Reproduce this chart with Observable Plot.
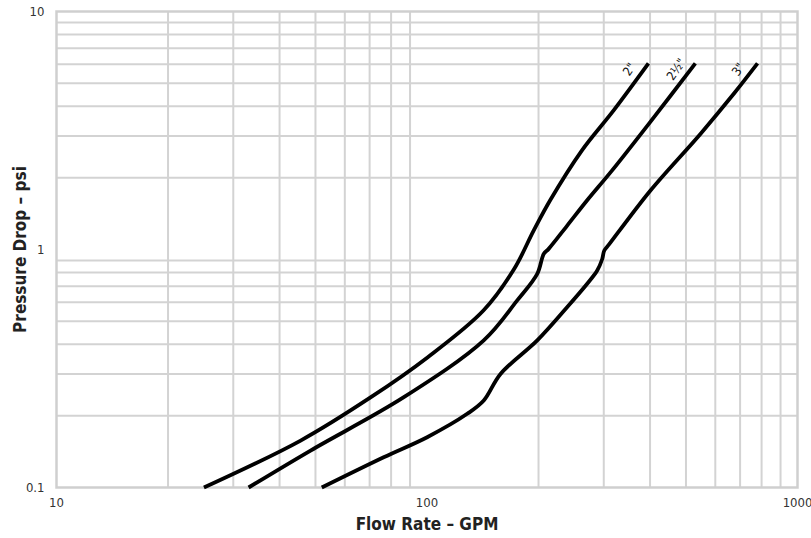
<!DOCTYPE html>
<html><head><meta charset="utf-8">
<script src="https://cdn.jsdelivr.net/npm/d3@7"></script>
<script src="https://cdn.jsdelivr.net/npm/@observablehq/plot@0.6"></script>
<style>body{margin:0;background:#fff}</style>
</head><body><div id="chart"></div>
<script>
const sizes = ['2"', '2½"', '3"'];
const flow2 = [25, 45.6, 70.4, 100.3, 142, 172, 194, 215, 262, 319, 396];
const drop2 = [0.1, 0.1575, 0.239, 0.352, 0.554, 0.83, 1.2, 1.61, 2.61, 3.84, 6.05];
const flow25 = [33, 48.5, 86.6, 142.3, 175.2, 198.4, 206.7, 213, 239, 270.6, 316, 410, 530];
const drop25 = [0.1, 0.143, 0.2395, 0.415, 0.611, 0.79, 0.96, 1.006, 1.26, 1.61, 2.15, 3.6, 6.05];
const flow3 = [52, 76.4, 100.1, 128.4, 142.3, 157.9, 198.4, 238.8, 270.6, 288, 297, 301, 310, 401, 547, 673, 780];
const drop3 = [0.1, 0.134, 0.1627, 0.204, 0.232, 0.30, 0.415, 0.572, 0.718, 0.816, 0.91, 0.99, 1.05, 1.77, 3.06, 4.51, 6.05];
const xTicks = [10, 100, 1000];
const yTicks = [0.1, 1, 10];
const xGrid = [20, 30, 40, 50, 60, 70, 80, 90, 200, 300, 400, 500, 600, 700, 800, 900];
const yGrid = [0.2, 0.3, 0.4, 0.5, 0.6, 0.7, 0.8, 0.9, 2, 3, 4, 5, 6, 7, 8, 9];
const xTitle = "Flow Rate – GPM";
const yTitle = "Pressure Drop – psi";

const rows = [];
[[flow2, drop2], [flow25, drop25], [flow3, drop3]].forEach(([xs, ys], i) =>
  xs.forEach((x, j) => rows.push({size: sizes[i], flow: x, drop: ys[j]})));
const ends = sizes.map(s => { const r = rows.filter(d => d.size === s); return r[r.length - 1]; });

const font = '"Liberation Sans Narrow","DejaVu Sans Condensed","Roboto",sans-serif';
const chart = Plot.plot({
  width: 811, height: 538,
  marginLeft: 56, marginRight: 14, marginTop: 11, marginBottom: 51,
  style: {fontFamily: font, fontSize: "13px", color: "#333", background: "#fff"},
  x: {type: "log", domain: [10, 1000]},
  y: {type: "log", domain: [0.1, 10]},
  marks: [
    Plot.ruleX(xGrid, {stroke: "#d3d3d3", strokeWidth: 2}),
    Plot.ruleY(yGrid, {stroke: "#d3d3d3", strokeWidth: 2}),
    Plot.frame({stroke: "#cfcfcf", strokeWidth: 2.5}),
    Plot.line(rows, {x: "flow", y: "drop", z: "size", stroke: "#000", strokeWidth: 3.8, curve: "catmull-rom", strokeLinecap: "butt"}),
    Plot.text(ends, {x: "flow", y: "drop", text: "size", rotate: -55, dx: -19, dy: 6, fill: "#111", fontSize: 12.5, textAnchor: "middle"}),
    Plot.axisX(xTicks, {tickSize: 0, tickPadding: 10, tickFormat: d => String(d), label: null, fontSize: 13}),
    Plot.axisY(yTicks, {tickSize: 0, tickPadding: 12, tickFormat: d => String(d), label: null, fontSize: 13}),
    Plot.text([xTitle], {frameAnchor: "bottom", dy: 37, fontWeight: "bold", fontSize: 17, fill: "#222", lineAnchor: "middle", textAnchor: "middle"}),
    Plot.text([yTitle], {frameAnchor: "left", rotate: -90, dx: -36, fontWeight: "bold", fontSize: 17, fill: "#222", lineAnchor: "middle", textAnchor: "middle"})
  ]
});
document.getElementById("chart").appendChild(chart);
</script>
</body></html>
